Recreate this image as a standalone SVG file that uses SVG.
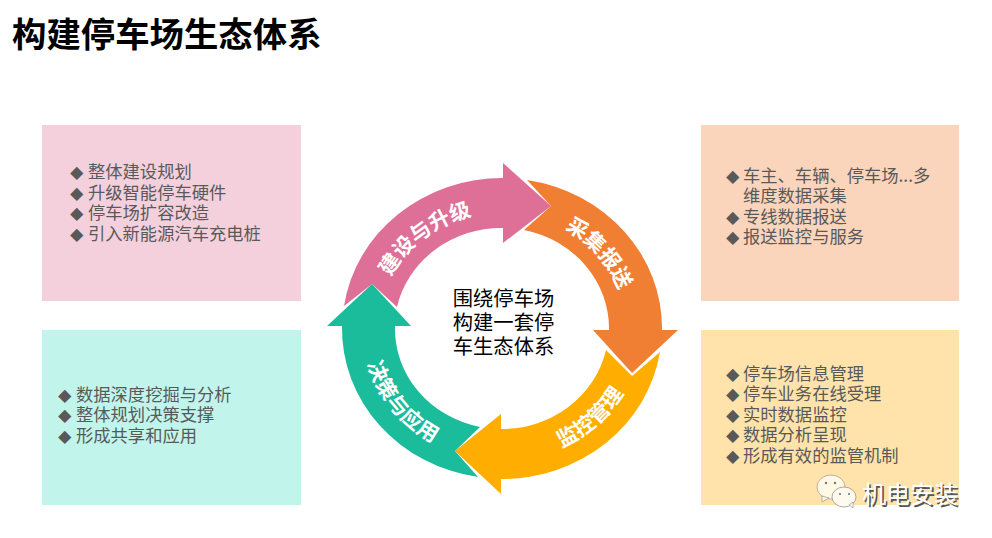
<svg xmlns="http://www.w3.org/2000/svg" width="992" height="538" viewBox="0 0 992 538">
<style>
text{font-family:"Noto Sans CJK SC","Liberation Sans",sans-serif}
.t{font-size:34.4px;font-weight:700;fill:#000}
.b{font-size:17.3px;fill:#595959}
.d{font-size:13.5px}
.c{font-size:20.3px;fill:#000;text-anchor:middle}
.l{font-size:21px;font-weight:700;fill:#fff;text-anchor:middle}
</style>
<defs>
<path id="p1" d="M386,287 A124,115 0 0 1 483,214"/>
<path id="p2" d="M546,221 A124,115 0 0 1 624.5,310"/>
<path id="p3" d="M533.5,456.6 A140,132 0 0 0 636,366.6"/>
<path id="p4" d="M363.4,346.4 A140,132 0 0 0 449.5,450.4"/>
</defs>
<rect width="992" height="538" fill="#fff"/>
<text class="t" x="12" y="47">构建停车场生态体系</text>
<g id="box-build"><rect x="42" y="125" width="259" height="176" fill="#f4d0dd"/>
<text class="b" x="70" y="178"><tspan class="d">◆</tspan><tspan x="88">整体建设规划</tspan></text>
<text class="b" x="70" y="199"><tspan class="d">◆</tspan><tspan x="88">升级智能停车硬件</tspan></text>
<text class="b" x="70" y="219"><tspan class="d">◆</tspan><tspan x="88">停车场扩容改造</tspan></text>
<text class="b" x="70" y="240"><tspan class="d">◆</tspan><tspan x="88">引入新能源汽车充电桩</tspan></text></g>
<g id="box-collect"><rect x="701" y="125" width="258" height="176" fill="#fbd5bb"/>
<text class="b" x="726" y="182"><tspan class="d">◆</tspan><tspan x="743">车主、车辆、停车场...多</tspan></text>
<text class="b" x="743" y="202">维度数据采集</text>
<text class="b" x="726" y="223"><tspan class="d">◆</tspan><tspan x="743">专线数据报送</tspan></text>
<text class="b" x="726" y="243"><tspan class="d">◆</tspan><tspan x="743">报送监控与服务</tspan></text></g>
<g id="box-decide"><rect x="42" y="330" width="259" height="175" fill="#c1f5ec"/>
<text class="b" x="58" y="401"><tspan class="d">◆</tspan><tspan x="76">数据深度挖掘与分析</tspan></text>
<text class="b" x="58" y="421"><tspan class="d">◆</tspan><tspan x="76">整体规划决策支撑</tspan></text>
<text class="b" x="58" y="442"><tspan class="d">◆</tspan><tspan x="76">形成共享和应用</tspan></text></g>
<g id="box-monitor"><rect x="701" y="330" width="258" height="175" fill="#ffe3ab"/>
<text class="b" x="726" y="380"><tspan class="d">◆</tspan><tspan x="743">停车场信息管理</tspan></text>
<text class="b" x="726" y="400"><tspan class="d">◆</tspan><tspan x="743">停车业务在线受理</tspan></text>
<text class="b" x="726" y="421"><tspan class="d">◆</tspan><tspan x="743">实时数据监控</tspan></text>
<text class="b" x="726" y="441"><tspan class="d">◆</tspan><tspan x="743">数据分析呈现</tspan></text>
<text class="b" x="726" y="462"><tspan class="d">◆</tspan><tspan x="743">形成有效的监管机制</tspan></text></g>
<g id="arrow-build"><path fill="#de6f96" d="M344,306 A160,150 0 0 1 503,178 L503,163 L551,206 L503,243 L503,228 A107,100.5 0 0 0 397,307 L372,284 Z"/>
<text class="l"><textPath href="#p1" startOffset="50%">建设与升级</textPath></text></g>
<g id="arrow-collect"><path fill="#f07f33" d="M527,180 A160,150 0 0 1 662,330 L678,330 L632,373 L593,330 L609,330 A107,100.5 0 0 0 524,230 L551,206 Z"/>
<text class="l"><textPath href="#p2" startOffset="50%">采集报送</textPath></text></g>
<g id="arrow-monitor"><path fill="#ffae00" d="M660,352 A160,150 0 0 1 501,479 L501,494 L455,451 L501,414 L501,429 A107,100.5 0 0 0 606,350 L632,376 Z"/>
<text class="l"><textPath href="#p3" startOffset="50%">监控管理</textPath></text></g>
<g id="arrow-decide"><path fill="#1bbc9c" d="M478,477 A160,150 0 0 1 342,326 L327,326 L372,284 L411,326 L395,326 A107,100.5 0 0 0 480,427 L455,451 Z"/>
<text class="l"><textPath href="#p4" startOffset="50%">决策与应用</textPath></text></g>
<g id="center"><text class="c" x="503.5" y="306">围绕停车场</text>
<text class="c" x="503.5" y="330">构建一套停</text>
<text class="c" x="503.5" y="354">车生态体系</text></g>
<g id="watermark">
<ellipse cx="831" cy="487" rx="14" ry="12" fill="#fff8e6" stroke="#8a8a80" stroke-width=".6"/>
<path d="M822,496 L822,502 L829,498 Z" fill="#fff8e6" stroke="#8a8a80" stroke-width=".6"/>
<ellipse cx="844" cy="497" rx="12" ry="10" fill="#fffaf0" stroke="#8a8a80" stroke-width=".7"/>
<path d="M849,505 L853,508 L853,502 Z" fill="#fffaf0" stroke="#8a8a80" stroke-width=".6"/>
<circle cx="826" cy="483" r="1.2" fill="#777"/><circle cx="835" cy="483" r="1.2" fill="#777"/>
<circle cx="840" cy="494" r="1.1" fill="#777"/><circle cx="849" cy="494" r="1.1" fill="#777"/>
<text x="863" y="504" font-size="24" fill="#555" transform="translate(.8 .8)">机电安装</text>
<text x="862" y="503" font-size="24" fill="#fff">机电安装</text>
</g>
</svg>
